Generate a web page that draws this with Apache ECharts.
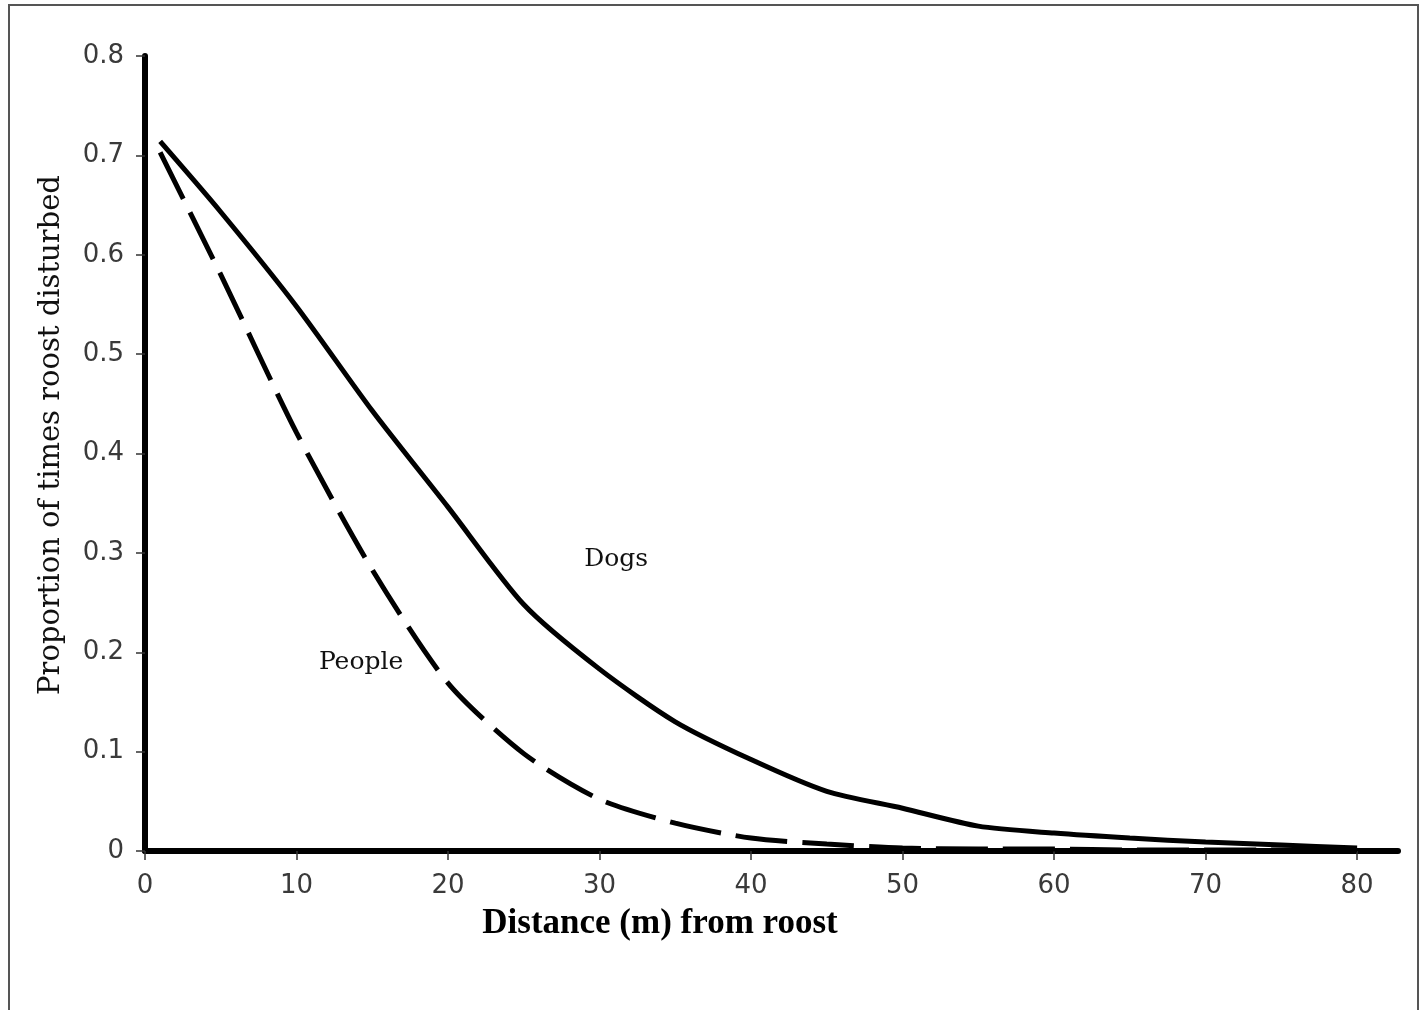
<!DOCTYPE html>
<html>
<head>
<meta charset="utf-8">
<script src="https://cdn.jsdelivr.net/npm/echarts@6/dist/echarts.min.js"></script>
<style>
html,body{margin:0;padding:0;background:#fff;}
#chart{width:1422px;height:1010px;}
</style>
</head>
<body>
<div id="chart"></div>
<script>
// Distance (m) from roost
const distance = [1, 5, 10, 15, 20, 25, 30, 35, 40, 45, 50, 55, 60, 65, 70, 75, 80];
// Proportion of times roost disturbed
const dogs   = [0.714, 0.643, 0.548, 0.443, 0.346, 0.248, 0.183, 0.130, 0.092, 0.060, 0.043, 0.025, 0.018, 0.013, 0.009, 0.006, 0.003];
const people = [0.703, 0.580, 0.421, 0.283, 0.169, 0.098, 0.052, 0.028, 0.013, 0.007, 0.003, 0.002, 0.002, 0.001, 0.001, 0.001, 0.001];
const xTicks = [0, 10, 20, 30, 40, 50, 60, 70, 80];
const seriesNames = ['Dogs', 'People'];
const labelAt = { Dogs: [31.1, 0.293], People: [14.26, 0.190] };
const xTitle = 'Distance (m) from roost';
const yTitle = 'Proportion of times roost disturbed';

const chart = echarts.init(document.getElementById('chart'), null, { renderer: 'canvas' });

function pairs(xs, ys) { return xs.map((x, i) => [x, ys[i]]); }

const tickLabelStyle = { fontFamily: 'DejaVu Sans', fontSize: 26, color: '#3a3a3a' };

chart.setOption({
  backgroundColor: '#ffffff',
  animation: false,
  grid: { left: 145, top: 56, right: 24, bottom: 159, containLabel: false },
  xAxis: {
    type: 'value', min: 0, max: 82.7,
    axisLine: { show: true, lineStyle: { color: '#000', width: 6 } },
    axisTick: { show: true, length: 9, customValues: xTicks, lineStyle: { color: '#333', width: 1.5 } },
    axisLabel: Object.assign({ margin: 22, customValues: xTicks }, tickLabelStyle),
    splitLine: { show: false }
  },
  yAxis: {
    type: 'value', min: 0, max: 0.8, interval: 0.1,
    axisLine: { show: true, onZero: false, lineStyle: { color: '#000', width: 6 } },
    axisTick: { show: true, length: 9, lineStyle: { color: '#333', width: 1.5 } },
    axisLabel: Object.assign({ margin: 21, formatter: v => String(+v.toFixed(1)) }, tickLabelStyle),
    splitLine: { show: false }
  },
  series: [
    {
      name: seriesNames[0], type: 'line', data: pairs(distance, dogs),
      showSymbol: false, smooth: 0.25,
      lineStyle: { color: '#000', width: 5 },
      markPoint: {
        symbol: 'circle', symbolSize: 0,
        data: [{ name: seriesNames[0], coord: labelAt.Dogs }],
        label: { show: true, position: 'inside', formatter: '{b}', fontFamily: 'DejaVu Serif', fontSize: 25, color: '#111' }
      }
    },
    {
      name: seriesNames[1], type: 'line', data: pairs(distance, people),
      showSymbol: false, smooth: 0.25,
      lineStyle: { color: '#000', width: 5, type: [52, 15] },
      markPoint: {
        symbol: 'circle', symbolSize: 0,
        data: [{ name: seriesNames[1], coord: labelAt.People }],
        label: { show: true, position: 'inside', formatter: '{b}', fontFamily: 'DejaVu Serif', fontSize: 25, color: '#111' }
      }
    }
  ],
  graphic: [
    { type: 'rect', shape: { x: 9, y: 5, width: 1409, height: 1012 }, style: { fill: 'none', stroke: '#555', lineWidth: 2 }, silent: true },
    { type: 'text', x: 660, y: 924, style: { text: xTitle, fontFamily: 'Liberation Serif', fontWeight: 'bold', fontSize: 35, fill: '#000', align: 'center', verticalAlign: 'middle' } },
    { type: 'text', x: 51, y: 435, rotation: Math.PI / 2, style: { text: yTitle, fontFamily: 'DejaVu Serif', fontSize: 29, fill: '#111', align: 'center', verticalAlign: 'middle' } }
  ]
});
</script>
</body>
</html>
